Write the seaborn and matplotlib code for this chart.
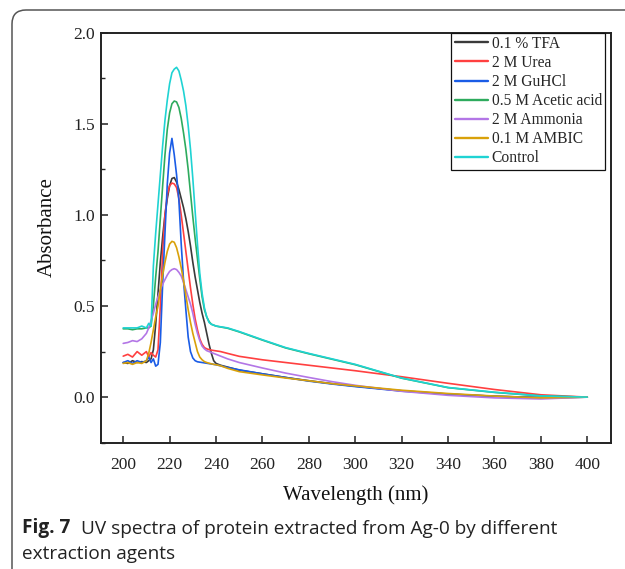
import numpy as np
import pandas as pd
import matplotlib
matplotlib.use("Agg")
import matplotlib.pyplot as plt
import matplotlib.transforms as mtransforms
from matplotlib.patches import FancyBboxPatch
from matplotlib.ticker import MultipleLocator, FormatStrFormatter
import seaborn as sns

# wavelength grid (nm), shared by all spectra
wavelength = [200, 202, 204, 206, 208, 210,
              211, 212, 213, 214, 215, 216, 217, 218, 219, 220,
              221, 222, 223, 224, 225, 226, 227, 228, 229, 230,
              231, 232, 233, 234, 235, 236, 237, 238, 239, 240,
              242, 245, 250,
              260, 270, 280, 290, 300,
              320, 340, 360, 380, 400]

tfa = [0.19, 0.185, 0.20, 0.19, 0.195, 0.19,
       0.20, 0.21, 0.26, 0.40, 0.57, 0.74, 0.88, 1.00, 1.09, 1.16,
       1.20, 1.205, 1.18, 1.14, 1.09, 1.04, 0.98, 0.91, 0.83, 0.74,
       0.66, 0.59, 0.52, 0.46, 0.41, 0.35, 0.29, 0.24, 0.20, 0.185,
       0.175, 0.165, 0.148,
       0.128, 0.108, 0.09, 0.074, 0.06,
       0.035, 0.017, 0.005, -0.003, 0.0]

urea = [0.225, 0.235, 0.22, 0.25, 0.23, 0.25,
        0.22, 0.245, 0.23, 0.22, 0.26, 0.50, 0.80, 1.00, 1.11, 1.16,
        1.175, 1.17, 1.15, 1.09, 1.00, 0.90, 0.80, 0.70, 0.60, 0.51,
        0.43, 0.37, 0.32, 0.29, 0.272, 0.265, 0.261, 0.258, 0.256, 0.254,
        0.25, 0.24, 0.224,
        0.205, 0.19, 0.175, 0.16, 0.145,
        0.112, 0.076, 0.042, 0.013, 0.0]

guhcl = [0.19, 0.20, 0.185, 0.20, 0.19, 0.20,
         0.22, 0.19, 0.21, 0.17, 0.18, 0.30, 0.62, 0.90, 1.17, 1.34,
         1.42, 1.33, 1.22, 1.08, 0.84, 0.64, 0.48, 0.33, 0.25, 0.215,
         0.20, 0.194, 0.192, 0.19, 0.188, 0.186, 0.184, 0.182, 0.18, 0.178,
         0.172, 0.163, 0.15,
         0.128, 0.108, 0.088, 0.072, 0.058,
         0.033, 0.016, 0.005, -0.002, 0.0]

acetic = [0.375, 0.375, 0.37, 0.375, 0.375, 0.38,
          0.38, 0.39, 0.50, 0.66, 0.80, 0.98, 1.16, 1.33, 1.47, 1.56,
          1.61, 1.625, 1.62, 1.59, 1.53, 1.45, 1.36, 1.25, 1.12, 0.99,
          0.87, 0.76, 0.65, 0.55, 0.48, 0.44, 0.415, 0.40, 0.395, 0.39,
          0.385, 0.378, 0.358,
          0.313, 0.27, 0.238, 0.208, 0.178,
          0.104, 0.052, 0.026, 0.007, 0.0]

ammonia = [0.295, 0.30, 0.31, 0.305, 0.32, 0.35,
           0.38, 0.42, 0.46, 0.51, 0.55, 0.59, 0.62, 0.645, 0.67, 0.69,
           0.70, 0.705, 0.70, 0.685, 0.665, 0.63, 0.59, 0.55, 0.51, 0.46,
           0.40, 0.35, 0.31, 0.28, 0.265, 0.255, 0.25, 0.245, 0.24, 0.235,
           0.225, 0.21, 0.19,
           0.16, 0.132, 0.108, 0.085, 0.065,
           0.032, 0.01, -0.004, -0.01, 0.0]

ambic = [0.185, 0.19, 0.18, 0.19, 0.185, 0.20,
         0.24, 0.30, 0.37, 0.44, 0.50, 0.59, 0.67, 0.74, 0.80, 0.84,
         0.855, 0.85, 0.82, 0.77, 0.71, 0.64, 0.56, 0.48, 0.41, 0.35,
         0.30, 0.25, 0.22, 0.205, 0.195, 0.19, 0.186, 0.183, 0.18, 0.178,
         0.172, 0.158, 0.14,
         0.122, 0.105, 0.09, 0.074, 0.062,
         0.038, 0.02, 0.006, -0.004, 0.0]

control = [0.38, 0.38, 0.38, 0.38, 0.39, 0.38,
           0.405, 0.39, 0.72, 0.90, 1.06, 1.22, 1.38, 1.52, 1.63, 1.72,
           1.78, 1.80, 1.81, 1.79, 1.74, 1.68, 1.60, 1.49, 1.36, 1.20,
           1.02, 0.84, 0.68, 0.57, 0.49, 0.44, 0.41, 0.40, 0.395, 0.39,
           0.386, 0.38, 0.36,
           0.315, 0.272, 0.24, 0.21, 0.18,
           0.105, 0.053, 0.027, 0.007, 0.0]

agents = ["0.1 % TFA", "2 M Urea", "2 M GuHCl", "0.5 M Acetic acid",
          "2 M Ammonia", "0.1 M AMBIC", "Control"]
spectra = [tfa, urea, guhcl, acetic, ammonia, ambic, control]
colors = ["#3a3a3a", "#ff4040", "#1a5ce6", "#2eab5e",
          "#b376e6", "#d9a10a", "#1fd3d3"]

df = pd.concat([pd.DataFrame({"Wavelength": wavelength, "Absorbance": s, "Agent": a})
                for a, s in zip(agents, spectra)], ignore_index=True)

sns.set_style("ticks")
plt.rcParams["font.family"] = ["Liberation Serif", "DejaVu Serif"]

fig = plt.figure(figsize=(6.25, 5.69), dpi=100)
ax = fig.add_axes([100.7 / 625, 1 - 442.7 / 569, 510 / 625, 410 / 569])

sns.lineplot(data=df, x="Wavelength", y="Absorbance", hue="Agent",
             hue_order=agents, palette=dict(zip(agents, colors)),
             estimator=None, sort=False, lw=1.2, ax=ax)

ax.set_xlim(190.3, 410.1)
ax.set_ylim(-0.25, 2.0)
ax.set_xticks(range(200, 401, 20))
ax.yaxis.set_major_locator(MultipleLocator(0.5))
ax.yaxis.set_minor_locator(MultipleLocator(0.25))
ax.yaxis.set_major_formatter(FormatStrFormatter("%.1f"))
ax.tick_params(axis="both", which="major", direction="in", length=5, width=1.1,
               labelsize=12.5, colors="#222222", labelcolor="#222222")
ax.tick_params(axis="x", which="major", pad=10)
ax.tick_params(axis="y", which="major", pad=4)
ax.tick_params(axis="y", which="minor", direction="in", length=3, width=1.0)
for sp in ax.spines.values():
    sp.set_visible(True)
    sp.set_linewidth(1.4)
    sp.set_color("#222222")

ax.set_xlabel("Wavelength (nm)", fontsize=15, labelpad=9, color="#111111")
ax.set_ylabel("Absorbance", fontsize=15, color="#111111")
ax.yaxis.set_label_coords(-0.086, 0.525)

leg = ax.legend(loc="upper right", bbox_to_anchor=(0.989, 1.0), borderaxespad=0,
                prop={"size": 11.2}, frameon=True, fancybox=False, framealpha=1,
                edgecolor="#111111", handlelength=2.18, handletextpad=0.2,
                labelspacing=0.2, borderpad=0.2, title=None)
leg.get_frame().set_linewidth(0.9)
for h in leg.get_lines():
    h.set_linewidth(1.7)

# journal figure frame with rounded corner
frame = FancyBboxPatch((12, -60), 720, 559 + 60, boxstyle="round,pad=0,rounding_size=14",
                       transform=mtransforms.IdentityTransform(), fill=False,
                       edgecolor="#555555", lw=1.1)
fig.patches.append(frame)

# caption
cap_font = ["Open Sans", "DejaVu Sans"]
t1 = fig.text(22 / 625, 1 - 538 / 569, "Fig. 7", fontsize=13.7, fontweight="bold",
              family=cap_font, color="#222222", va="bottom")
ax.annotate("UV spectra of protein extracted from Ag-0 by different",
            xy=(1, 0), xycoords=t1, xytext=(8, 0), textcoords="offset points",
            fontsize=13.7, family=cap_font, color="#222222",
            va="bottom", ha="left", annotation_clip=False)
fig.text(22 / 625, 1 - 563 / 569, "extraction agents", fontsize=13.7,
         family=cap_font, color="#222222", va="bottom")

fig.savefig("out.png", dpi=100)
